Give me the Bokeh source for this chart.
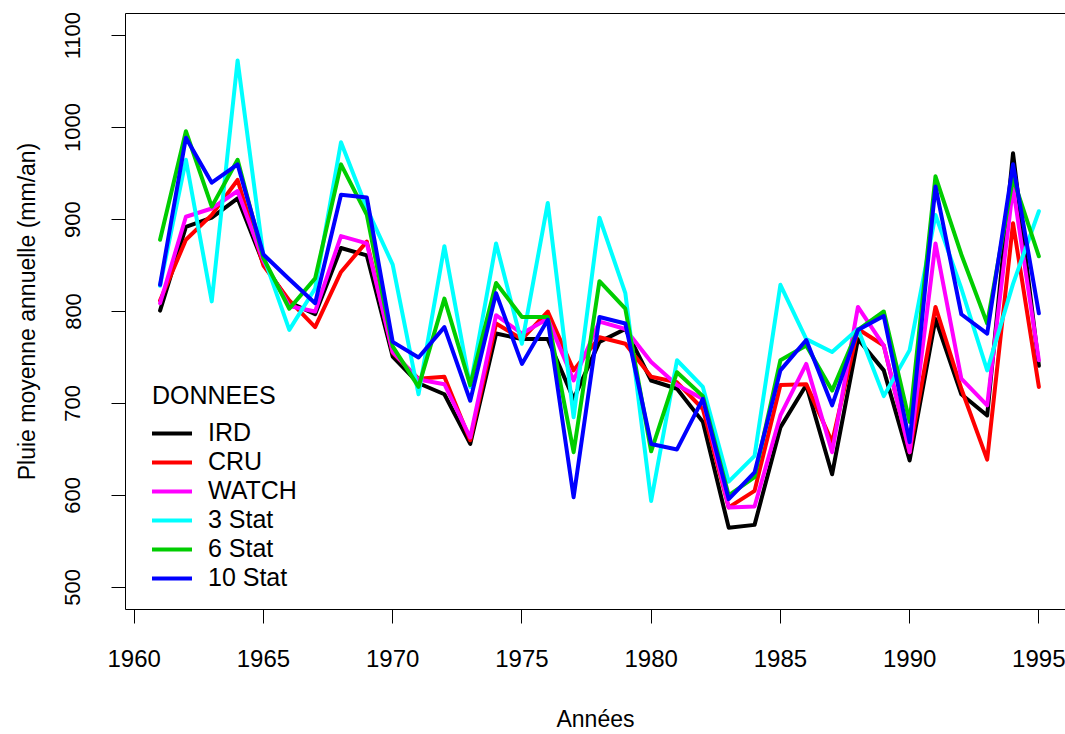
from bokeh.plotting import figure
from bokeh.models import Range1d, FixedTicker, LinearAxis, Legend, LegendItem
from bokeh.embed import file_html
from bokeh.resources import INLINE

years = list(range(1961, 1996))
ird = [801, 892, 902, 923, 852, 810, 797, 869, 861, 751, 722, 710, 656, 776, 770, 770, 705, 767, 781, 725,
       716, 680, 565, 568, 674, 720, 623, 770, 736, 638, 792, 710, 687, 972, 741]
cru = [812, 878, 905, 943, 850, 812, 783, 843, 876, 755, 727, 729, 660, 787, 770, 800, 736, 772, 765, 729,
       723, 694, 587, 605, 720, 721, 658, 781, 763, 647, 805, 716, 639, 896, 718]
watch = [809, 903, 912, 931, 855, 806, 800, 882, 874, 756, 726, 721, 663, 796, 776, 792, 725, 789, 781, 745,
         720, 705, 587, 588, 687, 743, 647, 805, 763, 647, 874, 727, 698, 935, 747]
stat3 = [828, 965, 811, 1073, 860, 780, 825, 984, 912, 851, 710, 871, 718, 874, 765, 918, 685, 902, 820, 594,
         747, 718, 615, 643, 829, 770, 756, 781, 708, 758, 905, 825, 736, 830, 909]
stat6 = [878, 996, 914, 965, 858, 803, 836, 960, 905, 762, 718, 814, 720, 831, 794, 794, 647, 833, 803, 648,
         734, 708, 600, 620, 747, 763, 714, 780, 800, 680, 947, 862, 787, 945, 860]
stat10 = [829, 989, 940, 960, 862, 835, 809, 927, 924, 767, 750, 783, 703, 820, 743, 791, 598, 794, 787, 656,
          650, 705, 596, 625, 736, 769, 698, 780, 795, 658, 936, 797, 776, 960, 798]

names = ["IRD", "CRU", "WATCH", "3 Stat", "6 Stat", "10 Stat"]
colors = ["#000000", "#FF0000", "#FF00FF", "#00FFFF", "#00CD00", "#0000FF"]
values = [ird, cru, watch, stat3, stat6, stat10]
x_ticks = [1960, 1965, 1970, 1975, 1980, 1985, 1990, 1995]
y_ticks = [500, 600, 700, 800, 900, 1000, 1100]

FONT = "Liberation Sans"

p = figure(width=1065, height=734, output_backend="svg", toolbar_location=None,
           x_range=Range1d(1959.663, 1996.03), y_range=Range1d(476, 1124),
           min_border_left=125, min_border_right=0, min_border_top=13, min_border_bottom=124)
p.outline_line_color = None
p.grid.visible = False
p.background_fill_color = "white"
p.border_fill_color = "white"

renderers = []
for name, col, vals in zip(names, colors, values):
    r = p.line(years, vals, line_color=col, line_width=4, line_join="round", line_cap="round")
    renderers.append(r)

for ax in (p.xaxis[0], p.yaxis[0]):
    ax.axis_line_color = "black"
    ax.axis_line_width = 1
    ax.major_tick_line_color = "black"
    ax.major_tick_line_width = 1
    ax.major_tick_out = 14
    ax.major_tick_in = 0
    ax.minor_tick_line_color = None
    ax.major_label_text_font = FONT
    ax.major_label_text_color = "black"
    ax.axis_label_text_font = FONT
    ax.axis_label_text_font_style = "normal"
    ax.axis_label_text_color = "black"
    ax.axis_label_text_font_size = "23px"

p.xaxis.ticker = FixedTicker(ticks=x_ticks)
p.xaxis.major_label_text_font_size = "24px"
p.xaxis.major_label_standoff = 26
p.xaxis.axis_label = "Années"
p.xaxis.axis_label_standoff = 36

p.yaxis.ticker = FixedTicker(ticks=y_ticks)
p.yaxis.major_label_text_font_size = "22px"
p.yaxis.major_label_orientation = "parallel"
p.yaxis.major_label_standoff = 31
p.yaxis.axis_label = "Pluie moyenne annuelle (mm/an)"
p.yaxis.axis_label_standoff = 23

top = LinearAxis(ticker=FixedTicker(ticks=[]), axis_line_color="black", axis_line_width=1,
                 major_tick_out=0, major_tick_in=0, minor_tick_out=0, minor_tick_in=0,
                 major_label_standoff=0, major_label_text_font_size="0px")
p.add_layout(top, "above")

items = [LegendItem(label=n, renderers=[r]) for n, r in zip(names, renderers)]
legend = Legend(items=items, location=(27, 17), title="DONNEES",
                title_text_font=FONT, title_text_font_size="25px", title_text_font_style="normal",
                title_text_color="black", title_standoff=8,
                label_text_font=FONT, label_text_font_size="25px", label_text_color="black",
                glyph_width=40, glyph_height=20, label_height=20, label_standoff=16,
                spacing=0, padding=0, margin=0,
                border_line_color=None, background_fill_alpha=0)
p.add_layout(legend)

open("out.html", "w", encoding="utf-8").write(file_html(p, INLINE))
